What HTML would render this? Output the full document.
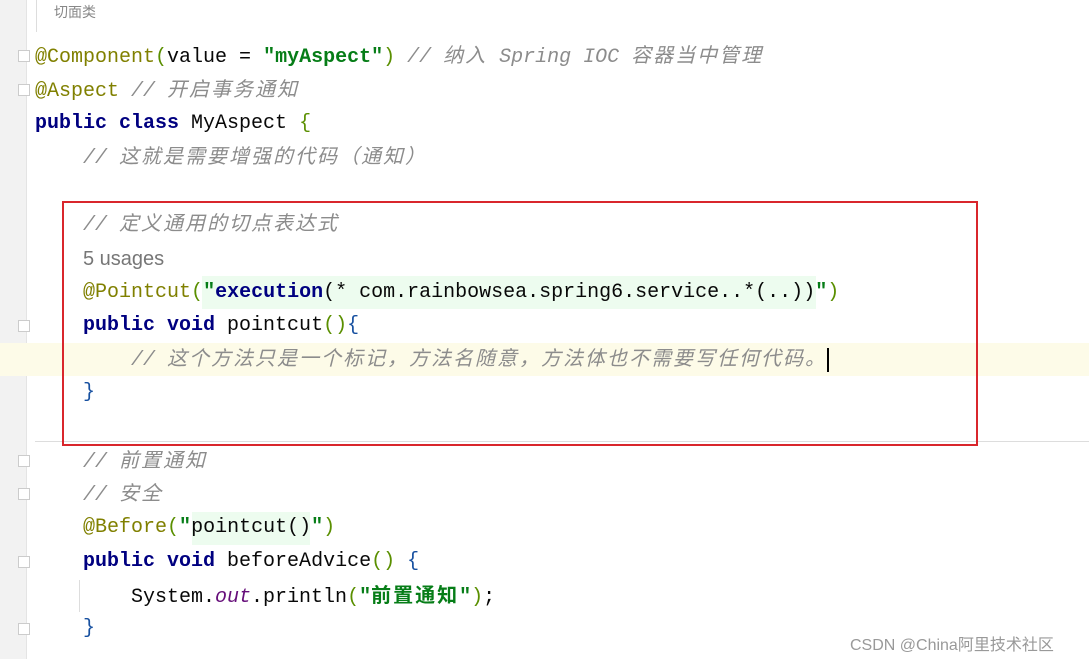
<!DOCTYPE html>
<html><head><meta charset="utf-8"><style>
body{margin:0;width:1089px;height:659px;background:#fff;overflow:hidden;position:relative;font-family:"Liberation Mono","Noto Sans CJK SC",monospace;font-size:20px}
.gut{position:absolute;left:0;top:0;width:26px;height:659px;background:#f2f2f2;border-right:1px solid #e4e4e4}
.l{position:absolute;left:35px;height:34px;line-height:34px;white-space:pre;color:#080808}
.a{color:#808000}.k{color:#000080;font-weight:bold}.s{color:#067d17;font-weight:bold}.c{color:#8c8c8c;font-style:italic}
.p{color:#5a8f00}.cj{font-family:"Liberation Sans","Noto Sans CJK SC",sans-serif;letter-spacing:2px}
.o{color:#660e7a;font-style:italic}
.fold{position:absolute;left:18px;width:12px;height:12px;border:1px solid #ccc;background:#fff;box-sizing:border-box}
</style></head><body>
<div class="gut"></div>
<div style="position:absolute;left:36px;top:0;width:1px;height:32px;background:#ddd"></div>
<div style="position:absolute;left:54px;top:2px;font-size:14px;color:#888;font-family:'Liberation Sans','Noto Sans CJK SC',sans-serif">切面类</div>
<div style="position:absolute;left:0;top:343px;width:1089px;height:33px;background:#fdfbe8"></div>
<div style="position:absolute;left:202px;top:276px;width:614px;height:33px;background:#edfcef"></div>
<div style="position:absolute;left:192px;top:512px;width:118px;height:33px;background:#edfcef"></div>
<div style="position:absolute;left:35px;top:441px;width:1054px;height:1px;background:#ddd"></div>
<div style="position:absolute;left:79px;top:580px;width:1px;height:32px;background:#ddd"></div>
<div class="fold" style="top:50px"></div><div class="fold" style="top:84px"></div>
<div class="fold" style="top:320px"></div><div class="fold" style="top:455px"></div>
<div class="fold" style="top:488px"></div><div class="fold" style="top:556px"></div><div class="fold" style="top:623px"></div>
<div class="l" style="top:39px"><span class="a">@Component</span><span class="p">(</span>value = <span class="s">"myAspect"</span><span class="p">)</span> <span class="c">// <span class="cj">纳入</span> Spring IOC <span class="cj">容器当中管理</span></span></div>
<div class="l" style="top:73px"><span class="a">@Aspect</span> <span class="c">// <span class="cj">开启事务通知</span></span></div>
<div class="l" style="top:107px"><span class="k">public class</span> MyAspect <span class="p">{</span></div>
<div class="l" style="top:140px">    <span class="c">// <span class="cj">这就是需要增强的代码（通知）</span></span></div>
<div class="l" style="top:207px">    <span class="c">// <span class="cj">定义通用的切点表达式</span></span></div>
<div class="l" style="top:242px;left:83px;font-family:'Liberation Sans',sans-serif;color:#777">5 usages</div>
<div class="l" style="top:276px">    <span class="a">@Pointcut</span><span class="p">(</span><span class="s">"</span><span class="k">execution</span>(* com.rainbowsea.spring6.service..*(..))<span class="s">"</span><span class="p">)</span></div>
<div class="l" style="top:309px">    <span class="k">public void</span> pointcut<span class="p">()</span><span style="color:#1750a0">{</span></div>
<div class="l" style="top:342px">        <span class="c">// <span class="cj">这个方法只是一个标记，方法名随意，方法体也不需要写任何代码。</span></span><span style="display:inline-block;width:2px;height:24px;background:#000;vertical-align:middle"></span></div>
<div class="l" style="top:376px">    <span style="color:#1750a0">}</span></div>
<div class="l" style="top:444px">    <span class="c">// <span class="cj">前置通知</span></span></div>
<div class="l" style="top:477px">    <span class="c">// <span class="cj">安全</span></span></div>
<div class="l" style="top:511px">    <span class="a">@Before</span><span class="p">(</span><span class="s">"</span>pointcut()<span class="s">"</span><span class="p">)</span></div>
<div class="l" style="top:545px">    <span class="k">public void</span> beforeAdvice<span class="p">()</span> <span style="color:#1750a0">{</span></div>
<div class="l" style="top:579px">        System.<span class="o">out</span>.println<span class="p">(</span><span class="s">"<span class="cj">前置通知</span>"</span><span class="p">)</span>;</div>
<div class="l" style="top:612px">    <span style="color:#1750a0">}</span></div>
<div style="position:absolute;left:62px;top:201px;width:912px;height:241px;border:2px solid #d9262c"></div>
<div style="position:absolute;left:850px;top:631px;font-size:16px;color:#999;font-family:'Liberation Sans','Noto Sans CJK SC',sans-serif;white-space:nowrap">CSDN @China阿里技术社区</div>
</body></html>
